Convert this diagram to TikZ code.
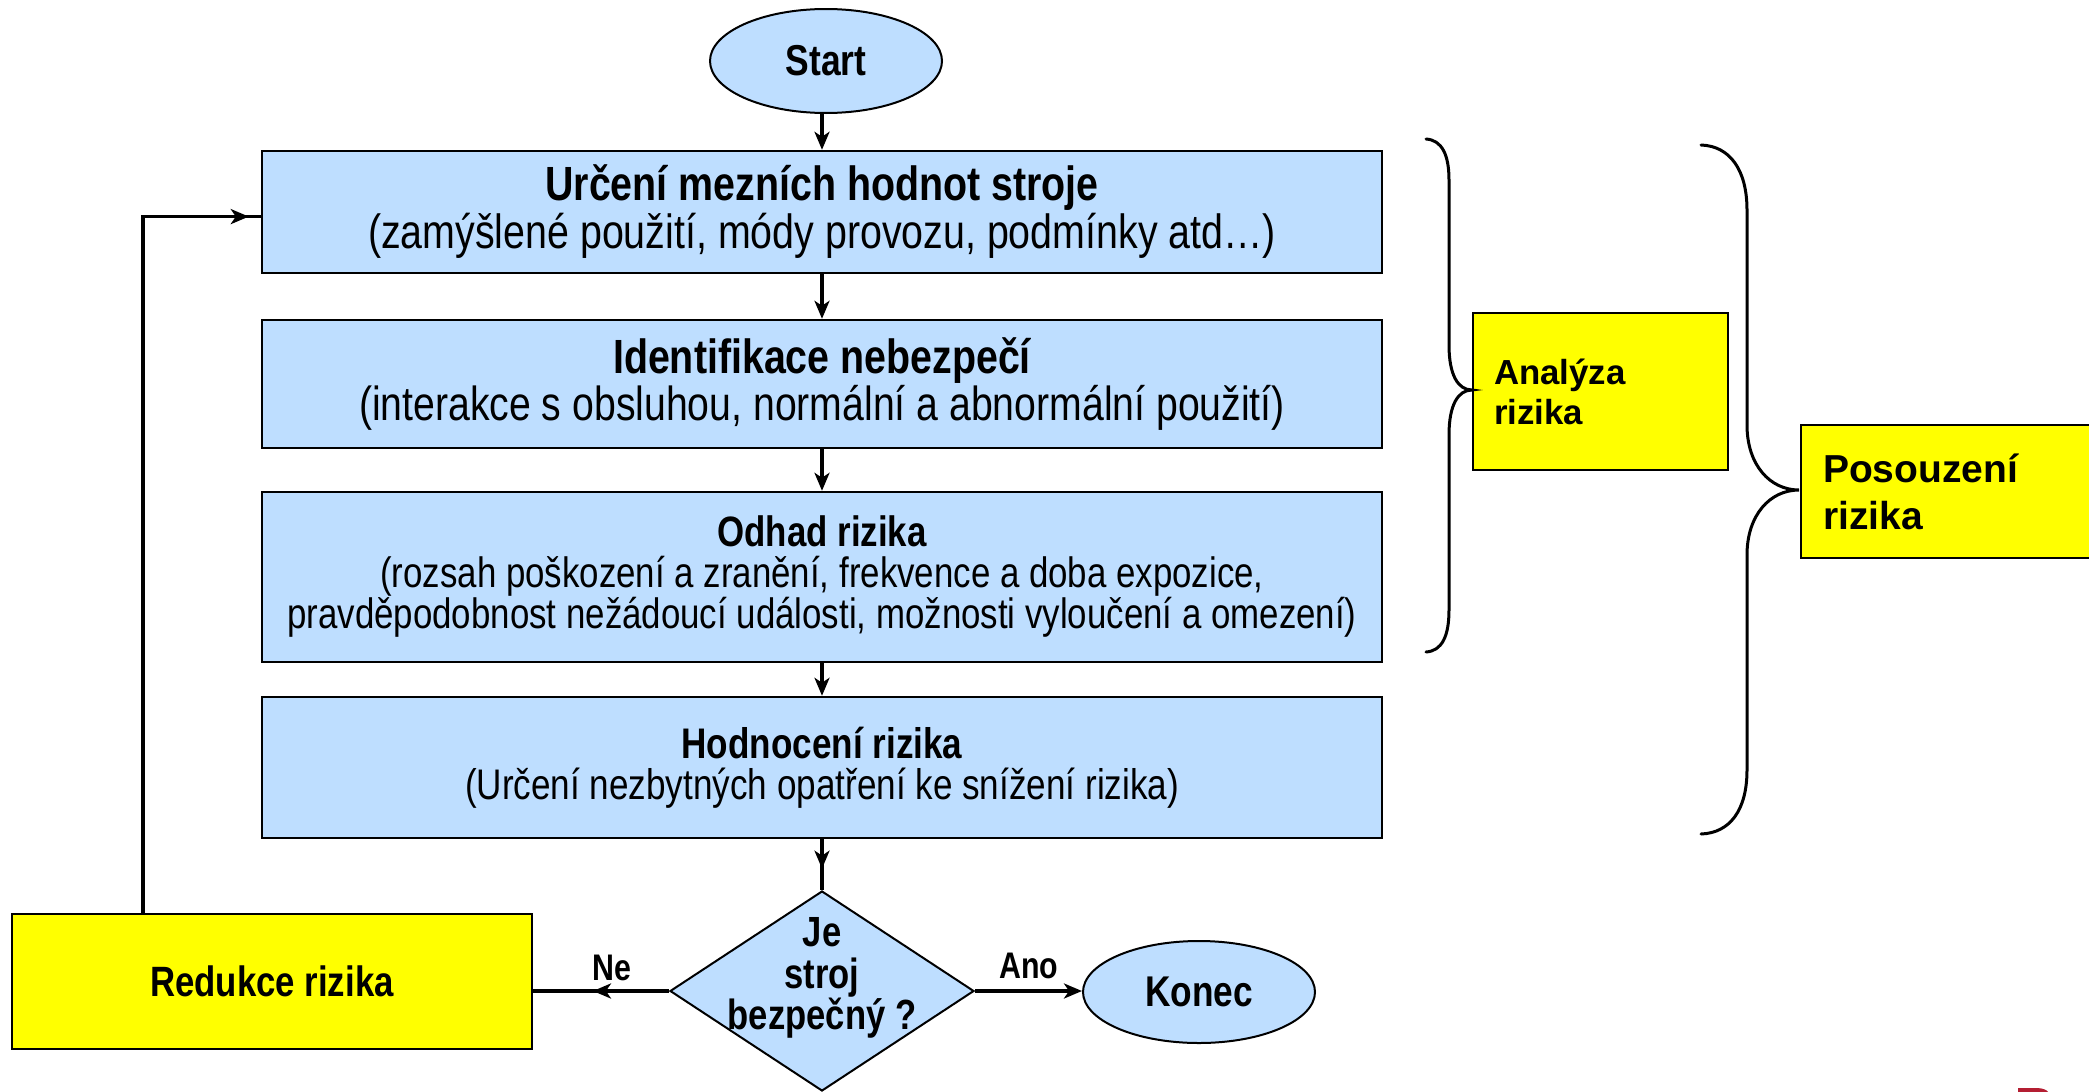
\documentclass[tikz,border=0pt]{standalone}
\usepackage{fontspec}
\setmainfont{Liberation Sans}
\newfontfamily\nar[FakeStretch=0.82]{Liberation Sans}
\usetikzlibrary{shapes.geometric,arrows.meta,decorations.markings}
\definecolor{lblue}{RGB}{190,222,255}
\definecolor{yel}{RGB}{255,255,0}
\definecolor{logored}{RGB}{180,30,50}
\begin{document}
\begin{tikzpicture}[x=0.5pt,y=-0.5pt,
  box/.style={draw, line width=1.2pt, fill=lblue, minimum width=560pt, align=center, inner sep=0pt},
  ybox/.style={draw, line width=1.2pt, fill=yel, inner sep=0pt},
  oval/.style={ellipse, draw, line width=1pt, fill=lblue, inner sep=0pt},
  tip/.style={-{Stealth[length=9pt,width=7.5pt,inset=2.5pt]}},
  arr/.style={line width=1.6pt, tip},
  midarr/.style={postaction={decorate}, decoration={markings, mark=at position #1 with {\arrow{Stealth[length=9pt,width=7.5pt,inset=2.5pt]}}}},
  bracepath/.style={line width=1.5pt, line cap=round},
  lbl/.style={font=\nar\bfseries\fontsize{18.5}{20}\selectfont, inner sep=0pt},
]
\useasboundingbox (0,0) rectangle (2089,1092);

\node[oval, minimum width=116pt, minimum height=52pt, font=\nar\bfseries\fontsize{21.6}{24}\selectfont] (start) at (826,61) {Start};

\node[box, minimum height=61pt, font=\nar\fontsize{24}{24}\selectfont] (b1) at (822,212)
  {{\bfseries Určení mezních hodnot stroje}\\(zamýšlené použití, módy provozu, podmínky atd…)};
\node[box, minimum height=64pt, font=\nar\fontsize{23.9}{23.5}\selectfont] (b2) at (822,384)
  {{\bfseries\fontsize{24}{23.5}\selectfont Identifikace nebezpečí}\\(interakce s obsluhou, normální a abnormální použití)};
\node[box, minimum height=85pt, font=\nar\fontsize{21.25}{20.5}\selectfont] (b3) at (822,577)
  {{\bfseries Odhad rizika}\\(rozsah poškození a zranění, frekvence a doba expozice,\\pravděpodobnost nežádoucí události, možnosti vyloučení a omezení)};
\node[box, minimum height=70.5pt, font=\nar\fontsize{21.4}{20.5}\selectfont] (b4) at (822,767.5)
  {{\bfseries Hodnocení rizika}\\(Určení nezbytných opatření ke snížení rizika)};

\node[diamond, draw, line width=1pt, fill=lblue, minimum width=152pt, minimum height=100pt, inner sep=0pt] (dia) at (822,991) {};
\node[font=\nar\bfseries\fontsize{21.1}{20.7}\selectfont, align=center, inner sep=0pt] (dtxt) at (822,978) {Je\\stroj\\bezpečný ?};

\node[oval, minimum width=116pt, minimum height=51pt, font=\nar\bfseries\fontsize{21.5}{24}\selectfont] (konec) at (1199,992) {Konec};

\node[ybox, minimum width=260pt, minimum height=67.5pt, font=\nar\bfseries\fontsize{21.2}{22}\selectfont] (red) at (272,981.5) {Redukce rizika};

\node[ybox, minimum height=78.5pt, text width=106.5pt, inner xsep=10.5pt, align=left, font=\bfseries\fontsize{17.4}{20}\selectfont] (ana) at (1600.5,391.5) {Analýza\\rizika\\[2pt]};
\node[ybox, minimum height=66.5pt, text width=125pt, inner xsep=11pt, align=left, font=\bfseries\fontsize{19.5}{23.5}\selectfont] (pos) at (1948,491.5) {Posouzení\\rizika\\[2pt]};

% connectors
\draw[arr] (b1.north |- start.south) -- (b1);
\draw[arr] (b1) -- (b2);
\draw[arr] (b2) -- (b3);
\draw[arr] (b3) -- (b4);
\draw[line width=1.6pt, midarr=0.58] (b4) -- (dia);
\draw[line width=1.8pt, midarr=0.56] (dia.west) -- (dia.west -| red.east);
\draw[line width=1.8pt, tip] (dia.east) -- (dia.east -| konec.west);
\coordinate (fb) at (143,0);
\draw[line width=1.8pt, midarr=-6pt] (fb |- red.north) |- ([yshift=-2.3pt]b1.west);

\node[lbl] (ne) at (612,968) {Ne};
\node[lbl] (ano) at (1029,966) {Ano};

% braces
\draw[bracepath] (1426,139) .. controls (1442,140) and (1449,155) .. (1449,180)
  -- (1449,345) .. controls (1449,375) and (1458,390) .. (1472,390)
  .. controls (1458,390) and (1449,405) .. (1449,435)
  -- (1449,610) .. controls (1449,636) and (1442,651) .. (1426,652);
\draw[bracepath] (1701,145) .. controls (1730,146) and (1747,170) .. (1747,210)
  -- (1747,425) .. controls (1747,465) and (1770,490) .. (1799,490)
  .. controls (1770,490) and (1747,515) .. (1747,555)
  -- (1747,770) .. controls (1747,810) and (1730,833) .. (1701,834);

% logo fragment
\fill[logored] (2018,1092) -- (2018,1088) -- (2036,1088) .. controls (2043,1088) and (2047,1090) .. (2048,1092) -- cycle;
\end{tikzpicture}
\end{document}
